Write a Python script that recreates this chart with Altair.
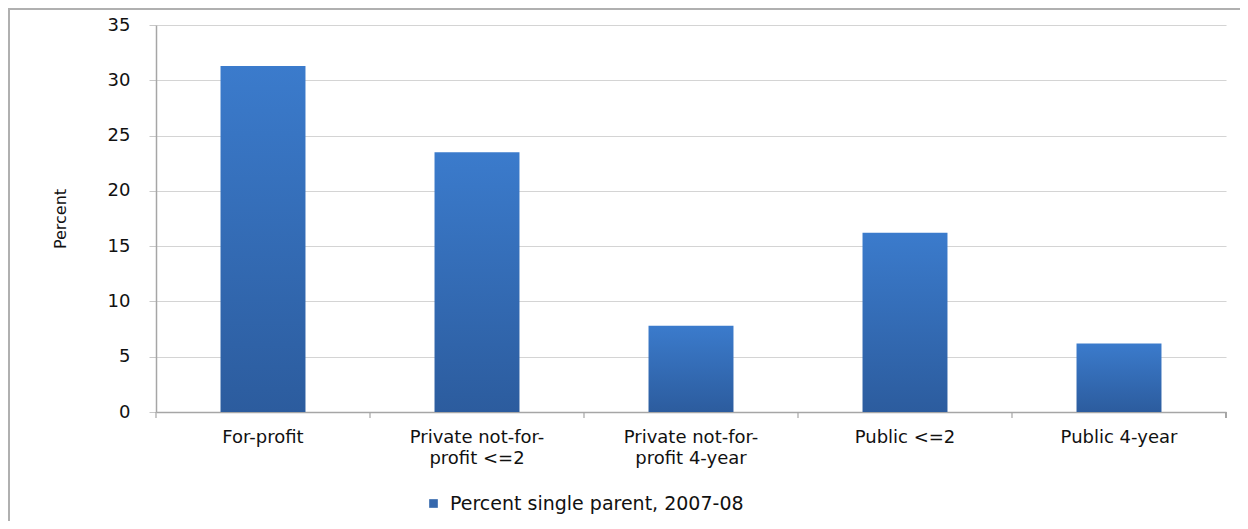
import json
import altair as alt
import pandas as pd

categories = [
    "For-profit",
    "Private not-for-profit <=2",
    "Private not-for-profit 4-year",
    "Public <=2",
    "Public 4-year",
]
values = [31.3, 23.5, 7.8, 16.2, 6.2]
label_lines = [
    ["For-profit"],
    ["Private not-for-", "profit <=2"],
    ["Private not-for-", "profit 4-year"],
    ["Public <=2"],
    ["Public 4-year"],
]
series_name = "Percent single parent, 2007-08"
y_ticks = [0, 5, 10, 15, 20, 25, 30, 35]

df = pd.DataFrame({"cat": categories, "val": values, "series": [series_name] * len(categories)})

W, H = 1070, 387
PAD = 0.603

label_map = json.dumps({c: l for c, l in zip(categories, label_lines)})
label_expr = f"{label_map}[datum.label]"

FONT = "DejaVu Sans"
TXT = "#111111"

xscale = alt.Scale(domain=categories, paddingInner=PAD, paddingOuter=PAD / 2)

gradient = alt.Gradient(
    gradient="linear",
    x1=0, y1=0, x2=0, y2=1,
    stops=[
        alt.GradientStop(offset=0, color="#3b7bcc"),
        alt.GradientStop(offset=1, color="#2c5c9e"),
    ],
)

base = alt.Chart(df)

bars = base.mark_bar(fill=gradient).encode(
    x=alt.X(
        "cat:N",
        scale=xscale,
        sort=categories,
        axis=alt.Axis(
            title=None,
            labelAngle=0,
            labelExpr=label_expr,
            labelFont=FONT,
            labelFontSize=18,
            labelColor=TXT,
            labelPadding=16,
            labelLineHeight=21,
            labelBaseline="top",
            ticks=False,
            tickSize=0,
            domainColor="#a6a6a6",
            domainWidth=1.5,
            grid=False,
        ),
    ),
    y=alt.Y(
        "val:Q",
        scale=alt.Scale(domain=[0, 35], nice=False),
        axis=alt.Axis(
            values=y_ticks,
            title="Percent",
            titleFont=FONT,
            titleFontSize=16,
            titleFontWeight="normal",
            titleColor=TXT,
            titleX=-96,
            titleY=H / 2,
            titleAngle=270,
            titleAlign="center",
            titleBaseline="middle",
            labelFont=FONT,
            labelFontSize=18,
            labelColor=TXT,
            labelPadding=19,
            tickSize=7,
            tickColor="#c8c8c8",
            domainColor="#a6a6a6",
            domainWidth=1.5,
            gridColor="#d4d4d4",
            gridWidth=1.2,
        ),
    ),
)

# category boundary ticks on the x axis
ticks = base.mark_rule(color="#a6a6a6", strokeWidth=1.2, xOffset=-107).encode(
    x=alt.X("cat:N", scale=xscale, sort=categories),
    y=alt.value(H),
    y2=alt.value(H + 6),
)
end_tick = base.mark_rule(color="#a6a6a6", strokeWidth=1.2).encode(
    x=alt.value(W), y=alt.value(H), y2=alt.value(H + 6)
)

# legend carrier (invisible marks, visible legend symbol)
legend_layer = base.mark_square(opacity=0, size=10).encode(
    x=alt.X("cat:N", scale=xscale, sort=categories),
    y=alt.Y("val:Q"),
    color=alt.Color(
        "series:N",
        scale=alt.Scale(domain=[series_name], range=["#3568ad"]),
        legend=alt.Legend(
            title=None,
            orient="none",
            legendX=268,
            legendY=469,
            symbolType="square",
            symbolSize=75,
            symbolOpacity=1,
            symbolStrokeWidth=0,
            labelFont=FONT,
            labelFontSize=19,
            labelColor=TXT,
            labelLimit=600,
            labelOffset=7,
            symbolOffset=0,
        ),
    ),
)

# chart frame (top and left edges)
frame_top = base.mark_rule(color="#b0b0b0", strokeWidth=1.5).encode(
    x=alt.value(-150), x2=alt.value(W + 30), y=alt.value(-16),
)
frame_left = base.mark_rule(color="#b0b0b0", strokeWidth=1.5).encode(
    x=alt.value(-147), y=alt.value(-17), y2=alt.value(H + 115)
)

chart = (
    alt.layer(frame_top, frame_left, bars, ticks, end_tick, legend_layer)
    .properties(
        width=W,
        height=H,
        autosize=alt.AutoSizeParams(type="none"),
        padding={"left": 148, "top": 17, "right": 14, "bottom": 109},
        background="white",
    )
    .configure_view(stroke=None)
)

chart.save("out.html", embed_options={"renderer": "svg", "actions": False})
